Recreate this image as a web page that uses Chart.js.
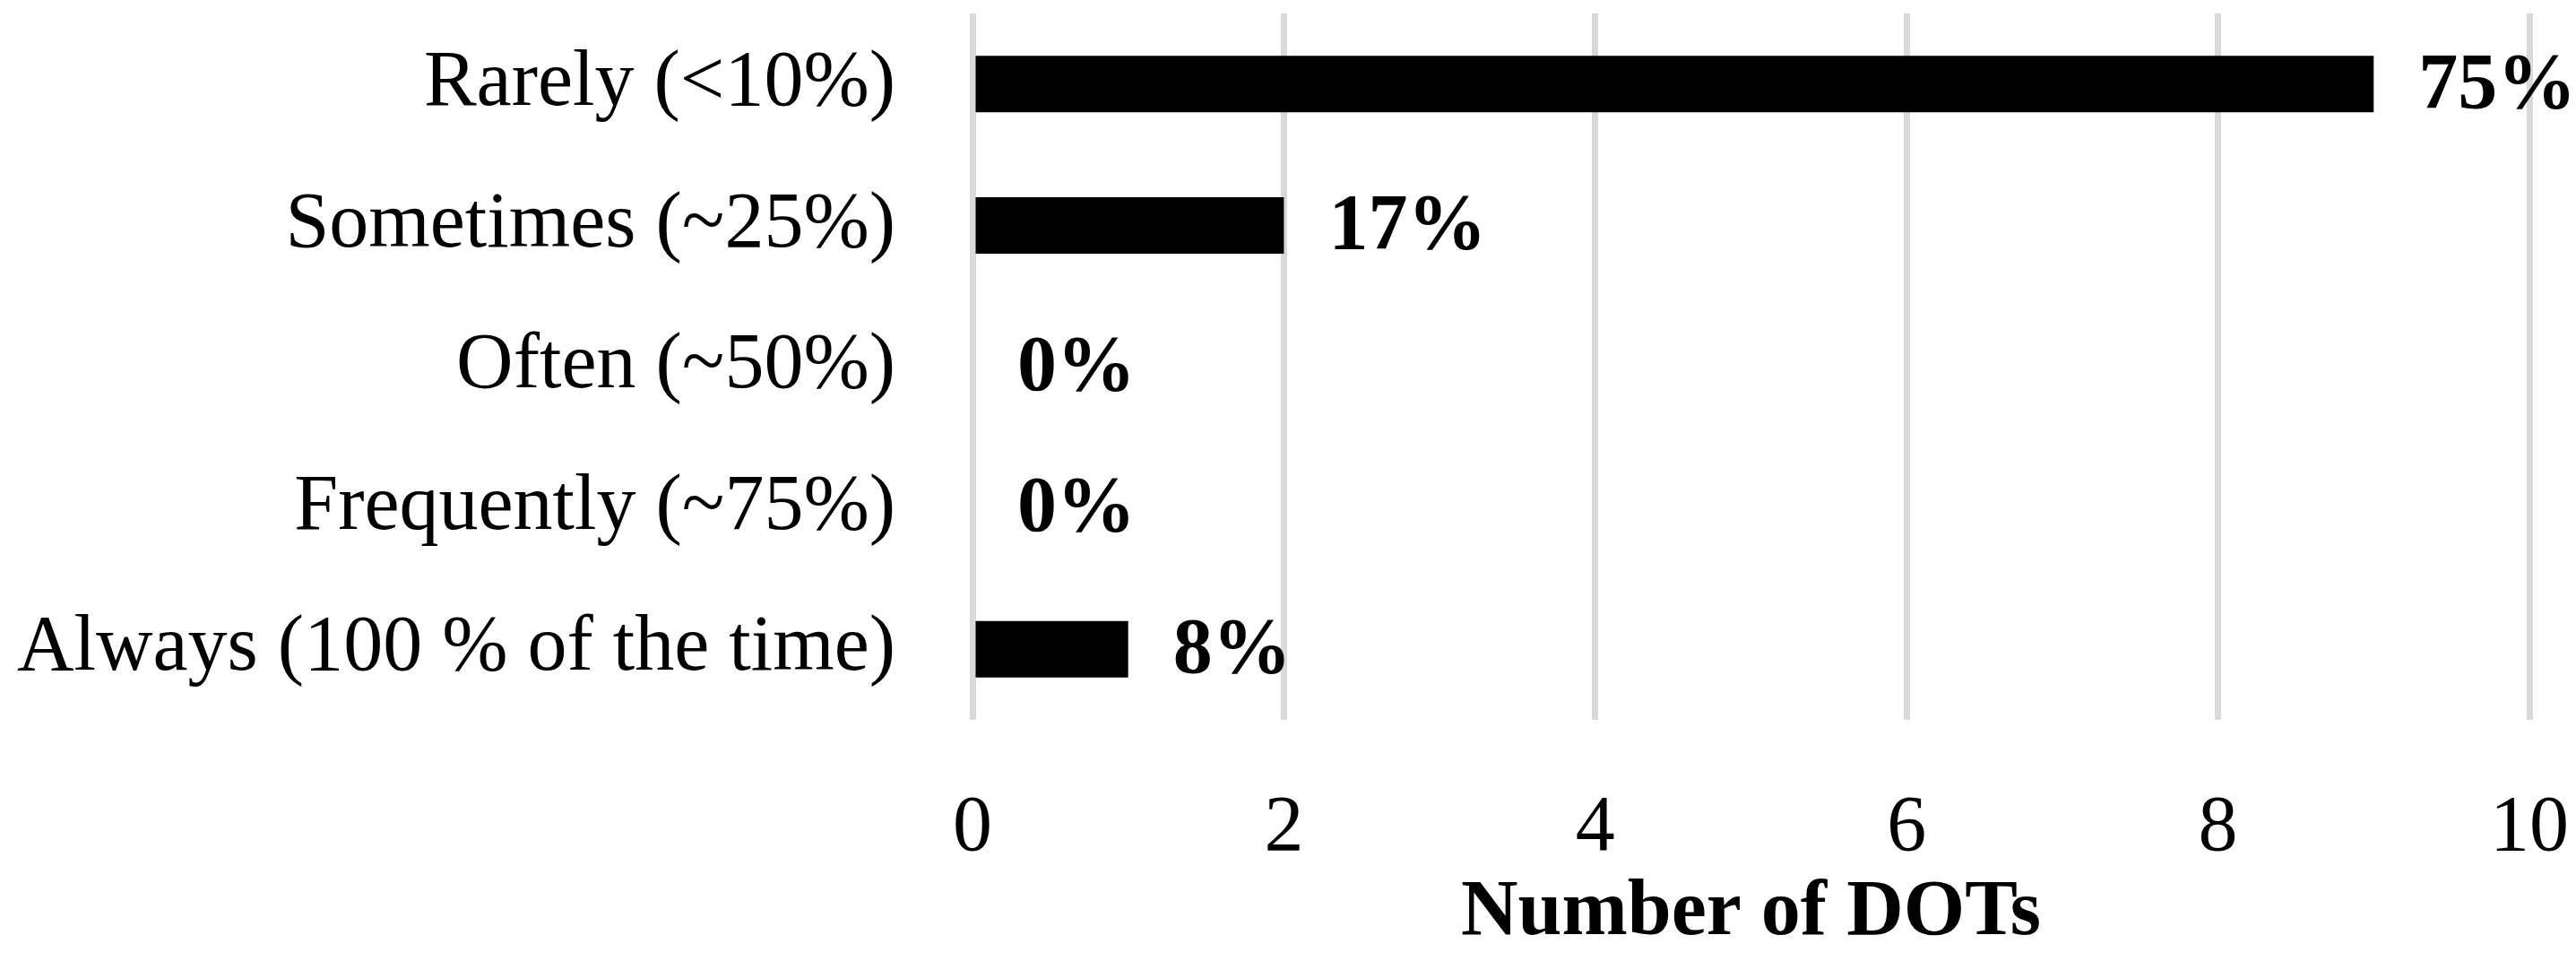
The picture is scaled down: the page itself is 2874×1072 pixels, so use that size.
<!DOCTYPE html>
<html>
<head>
<meta charset="utf-8">
<script src="https://cdn.jsdelivr.net/npm/chart.js@4/dist/chart.umd.min.js"></script>
<style>
    body { margin: 0; background: #fff; }
    #wrap { width: 2874px; height: 1072px; }
</style>
</head>
<body>
<div id="wrap"><canvas id="dots" width="2874" height="1072"></canvas></div>
<script>
var categories = ['Rarely (<10%)', 'Sometimes (~25%)', 'Often (~50%)', 'Frequently (~75%)', 'Always (100 % of the time)'];
var counts = [9, 2, 0, 0, 1];
var shares = ['75%', '17%', '0%', '0%', '8%'];
var xTicks = [0, 2, 4, 6, 8, 10];

var fontFamily = '"Liberation Serif", "DejaVu Serif", serif';

// draws the bold percentage just past the end of each bar
var barLabels = {
    id: 'barLabels',
    afterDatasetsDraw: function (chart) {
        var ctx = chart.ctx;
        var meta = chart.getDatasetMeta(0);
        ctx.save();
        ctx.font = 'bold 88px ' + fontFamily;
        ctx.fillStyle = '#000';
        ctx.textAlign = 'left';
        ctx.textBaseline = 'middle';
        meta.data.forEach(function (bar, i) {
            ctx.fillText(shares[i], bar.x + 50, bar.y + 3);
        });
        ctx.restore();
    }
};

var ctx = document.getElementById('dots').getContext('2d');
var myChart = new Chart(ctx, {
    type: 'bar',
    data: {
        labels: categories,
        datasets: [{
            data: counts,
            backgroundColor: '#000',
            borderWidth: 0,
            categoryPercentage: 0.8,
            barPercentage: 0.5
        }]
    },
    options: {
        indexAxis: 'y',
        responsive: false,
        animation: false,
        layout: {
            padding: { top: 15, right: 52, bottom: 0, left: 0 }
        },
        plugins: {
            legend: { display: false },
            tooltip: { enabled: false }
        },
        scales: {
            x: {
                min: 0,
                max: 10,
                afterBuildTicks: function (scale) {
                    scale.ticks = xTicks.map(function (v) { return { value: v }; });
                },
                afterFit: function (scale) {
                    scale.height = 269;
                    scale.paddingLeft = 0;
                    scale.paddingRight = 0;
                },
                grid: {
                    color: '#d9d9d9',
                    lineWidth: 7,
                    drawTicks: false
                },
                border: { display: false },
                ticks: {
                    color: '#000',
                    padding: 69,
                    font: { family: fontFamily, size: 88 }
                },
                title: {
                    display: true,
                    text: 'Number of DOTs',
                    color: '#000',
                    padding: { top: 0, bottom: 0 },
                    font: { family: fontFamily, size: 88, weight: 'bold' }
                }
            },
            y: {
                afterFit: function (scale) {
                    scale.width = 1085;
                    scale.paddingTop = 0;
                    scale.paddingBottom = 0;
                },
                grid: { display: false, drawTicks: false },
                border: { display: false },
                ticks: {
                    color: '#000',
                    padding: 86,
                    font: { family: fontFamily, size: 88 }
                }
            }
        }
    },
    plugins: [barLabels]
});
</script>
</body>
</html>
